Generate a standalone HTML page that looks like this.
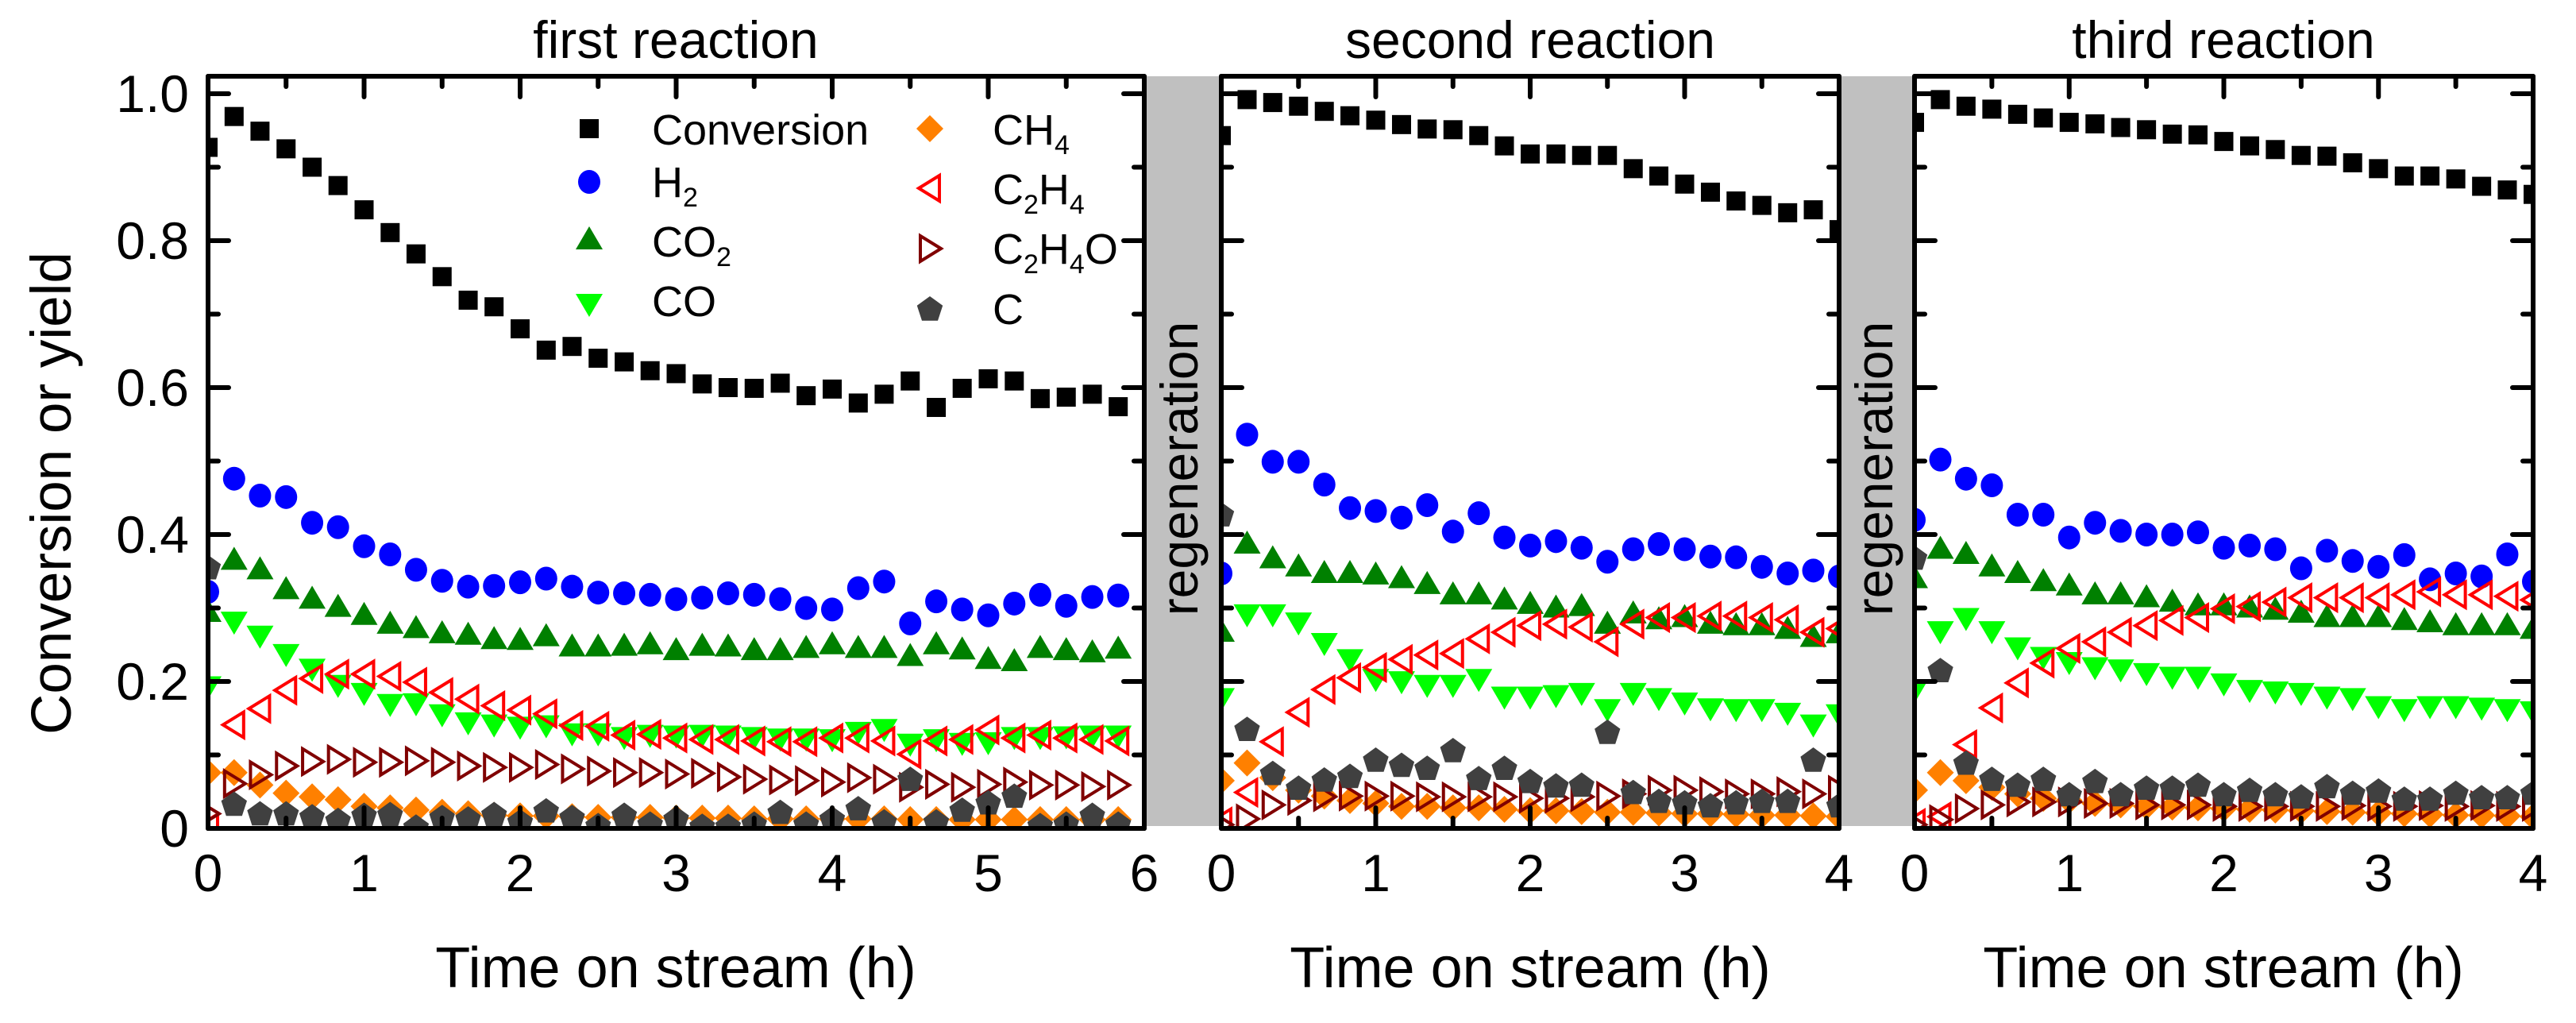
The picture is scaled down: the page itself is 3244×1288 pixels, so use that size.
<!DOCTYPE html>
<html><head><meta charset="utf-8"><style>
html,body{margin:0;padding:0;background:#fff;}
svg{display:block;font-family:"Liberation Sans",sans-serif;}
</style></head><body>
<svg id="chart" width="3244" height="1288" viewBox="0 0 3244 1288" xmlns="http://www.w3.org/2000/svg">
<defs>
<clipPath id="clip1"><rect x="262" y="96" width="1179" height="947"/></clipPath>
<clipPath id="clip2"><rect x="1538" y="96" width="778" height="947"/></clipPath>
<clipPath id="clip3"><rect x="2411" y="96" width="779" height="947"/></clipPath>
</defs>
<rect x="1443" y="96" width="93" height="944" fill="#c0c0c0"/>
<rect x="2318" y="96" width="91" height="944" fill="#c0c0c0"/>
<text transform="translate(1508,590) rotate(-90)" text-anchor="middle" font-size="66">regeneration</text>
<text transform="translate(2383,590) rotate(-90)" text-anchor="middle" font-size="66">regeneration</text>
<text transform="translate(89,621) rotate(-90)" text-anchor="middle" font-size="71">Conversion or yield</text>
<text x="851" y="73" text-anchor="middle" font-size="66">first reaction</text>
<text x="1927" y="73" text-anchor="middle" font-size="66">second reaction</text>
<text x="2800" y="73" text-anchor="middle" font-size="66">third reaction</text>
<text x="851" y="1243" text-anchor="middle" font-size="72">Time on stream (h)</text>
<text x="1927" y="1243" text-anchor="middle" font-size="72">Time on stream (h)</text>
<text x="2800" y="1243" text-anchor="middle" font-size="72">Time on stream (h)</text>
<g id="marks"></g>
<g id="frames"></g>
<g id="legend"></g>
</svg>
<script>
const t6 = [0,0.167,0.333,0.5,0.667,0.833,1,1.167,1.333,1.5,1.667,1.833,2,2.167,2.333,2.5,2.667,2.833,3,3.167,3.333,3.5,3.667,3.833,4,4.167,4.333,4.5,4.667,4.833,5,5.167,5.333,5.5,5.667,5.833];
const t4 = [0,0.167,0.333,0.5,0.667,0.833,1,1.167,1.333,1.5,1.667,1.833,2,2.167,2.333,2.5,2.667,2.833,3,3.167,3.333,3.5,3.667,3.833,4];
const yTicks = [0,0.2,0.4,0.6,0.8,1.0];
const yTickLabels = ["0","0.2","0.4","0.6","0.8","1.0"];

const p1Conv = [0.927,0.969,0.949,0.925,0.90,0.875,0.842,0.811,0.782,0.751,0.719,0.710,0.680,0.651,0.656,0.640,0.635,0.623,0.619,0.605,0.600,0.599,0.606,0.589,0.598,0.579,0.591,0.609,0.573,0.599,0.612,0.609,0.585,0.587,0.591,0.574];
const p1H2 = [0.322,0.476,0.453,0.451,0.416,0.410,0.384,0.373,0.352,0.337,0.329,0.330,0.335,0.340,0.329,0.321,0.320,0.318,0.312,0.314,0.320,0.318,0.312,0.300,0.298,0.327,0.336,0.279,0.309,0.298,0.290,0.306,0.318,0.303,0.315,0.317];
const p1CO2 = [0.294,0.365,0.352,0.325,0.312,0.301,0.290,0.278,0.272,0.265,0.263,0.257,0.256,0.261,0.247,0.247,0.248,0.250,0.242,0.248,0.247,0.242,0.242,0.245,0.250,0.245,0.245,0.234,0.250,0.243,0.230,0.227,0.245,0.242,0.239,0.244];
const p1CO = [0.194,0.282,0.263,0.238,0.218,0.196,0.185,0.170,0.171,0.156,0.145,0.142,0.139,0.141,0.130,0.130,0.125,0.128,0.127,0.128,0.127,0.125,0.123,0.123,0.122,0.132,0.136,0.116,0.122,0.117,0.118,0.125,0.125,0.126,0.127,0.127];
const p1CH4 = [0.076,0.076,0.059,0.048,0.043,0.039,0.030,0.028,0.025,0.022,0.020,0.018,0.017,0.017,0.016,0.015,0.015,0.015,0.014,0.014,0.014,0.013,0.013,0.013,0.013,0.013,0.013,0.012,0.012,0.012,0.012,0.012,0.012,0.012,0.012,0.012];
const p1C2H4 = [0.002,0.141,0.163,0.188,0.204,0.210,0.210,0.207,0.199,0.185,0.176,0.167,0.161,0.156,0.140,0.139,0.127,0.128,0.123,0.121,0.121,0.119,0.118,0.118,0.123,0.123,0.119,0.101,0.119,0.121,0.134,0.123,0.127,0.123,0.121,0.119];
const p1C2H4O = [0.02,0.061,0.073,0.085,0.091,0.094,0.090,0.090,0.092,0.090,0.085,0.083,0.083,0.087,0.081,0.078,0.076,0.076,0.074,0.075,0.070,0.067,0.066,0.065,0.063,0.069,0.067,0.056,0.060,0.056,0.060,0.063,0.059,0.059,0.057,0.059];
const p1C = [0.356,0.034,0.021,0.021,0.017,0.012,0.019,0.020,0.003,0.016,0.014,0.020,0.010,0.025,0.016,0.005,0.019,0.007,0.014,0.004,0.004,0.007,0.023,0.007,0.014,0.028,0.010,0.068,0.010,0.026,0.036,0.045,0.005,0.007,0.019,0.007];

const p2Conv = [0.943,0.992,0.988,0.983,0.976,0.970,0.964,0.958,0.952,0.951,0.943,0.929,0.918,0.918,0.916,0.916,0.898,0.888,0.877,0.866,0.854,0.848,0.838,0.842,0.815];
const p2H2 = [0.347,0.536,0.499,0.499,0.468,0.436,0.432,0.423,0.440,0.404,0.429,0.396,0.385,0.391,0.382,0.363,0.380,0.387,0.380,0.370,0.369,0.356,0.347,0.351,0.343];
const p2CO2 = [0.267,0.387,0.367,0.356,0.347,0.347,0.345,0.340,0.332,0.318,0.318,0.311,0.305,0.300,0.302,0.278,0.292,0.284,0.287,0.278,0.276,0.276,0.271,0.260,0.265];
const p2CO = [0.178,0.292,0.292,0.281,0.253,0.231,0.204,0.201,0.196,0.196,0.204,0.180,0.180,0.182,0.185,0.163,0.185,0.178,0.172,0.164,0.163,0.163,0.158,0.142,0.156];
const p2CH4 = [0.065,0.089,0.069,0.052,0.044,0.038,0.034,0.030,0.030,0.028,0.028,0.026,0.024,0.024,0.023,0.022,0.022,0.021,0.020,0.020,0.019,0.018,0.018,0.017,0.016];
const p2C2H4 = [0.009,0.049,0.118,0.158,0.189,0.205,0.219,0.230,0.236,0.238,0.258,0.267,0.276,0.278,0.274,0.254,0.278,0.287,0.287,0.289,0.289,0.287,0.284,0.267,0.272];
const p2C2H4O = [0.005,0.013,0.032,0.038,0.043,0.044,0.044,0.044,0.043,0.043,0.043,0.043,0.041,0.041,0.043,0.044,0.047,0.052,0.052,0.050,0.047,0.047,0.050,0.047,0.052];
const p2C = [0.428,0.136,0.076,0.056,0.067,0.072,0.094,0.087,0.083,0.107,0.069,0.083,0.065,0.059,0.060,0.132,0.050,0.038,0.036,0.032,0.036,0.038,0.038,0.094,0.032];

const p3Conv = [0.961,0.992,0.983,0.979,0.972,0.967,0.961,0.959,0.954,0.951,0.945,0.944,0.935,0.929,0.924,0.916,0.915,0.906,0.898,0.888,0.888,0.884,0.874,0.869,0.863];
const p3H2 = [0.420,0.502,0.476,0.467,0.427,0.427,0.396,0.416,0.405,0.400,0.400,0.403,0.382,0.385,0.380,0.354,0.378,0.364,0.356,0.372,0.339,0.347,0.343,0.373,0.336];
const p3CO2 = [0.340,0.380,0.373,0.356,0.347,0.336,0.330,0.318,0.318,0.314,0.308,0.303,0.303,0.300,0.297,0.293,0.287,0.287,0.287,0.283,0.280,0.276,0.276,0.276,0.271];
const p3CO = [0.189,0.269,0.287,0.269,0.247,0.234,0.227,0.220,0.217,0.212,0.207,0.207,0.198,0.189,0.187,0.185,0.180,0.178,0.167,0.163,0.167,0.167,0.165,0.163,0.160];
const p3CH4 = [0.052,0.076,0.065,0.056,0.047,0.041,0.038,0.034,0.032,0.030,0.029,0.028,0.027,0.026,0.025,0.024,0.023,0.022,0.021,0.020,0.019,0.018,0.018,0.017,0.016];
const p3C2H4 = [0.007,0.016,0.114,0.164,0.198,0.225,0.245,0.254,0.267,0.276,0.283,0.287,0.299,0.302,0.308,0.314,0.314,0.314,0.314,0.318,0.322,0.318,0.318,0.316,0.311];
const p3C2H4O = [0.005,0.012,0.027,0.032,0.036,0.036,0.036,0.034,0.034,0.032,0.032,0.032,0.030,0.030,0.030,0.030,0.030,0.031,0.030,0.030,0.031,0.030,0.031,0.030,0.030];
const p3C = [0.369,0.216,0.090,0.068,0.060,0.068,0.047,0.065,0.047,0.056,0.056,0.060,0.047,0.053,0.047,0.044,0.058,0.049,0.052,0.041,0.041,0.049,0.043,0.043,0.049];

const NS = "http://www.w3.org/2000/svg";
const Y0 = 1043, Y1 = 118; // pixel for 0 and 1.0
const panels = [
  {id:1, x0:262, x1:1441, xmax:6, t:t6, xTicks:[0,1,2,3,4,5,6], s:{conv:p1Conv,h2:p1H2,co2:p1CO2,co:p1CO,ch4:p1CH4,c2h4:p1C2H4,c2h4o:p1C2H4O,c:p1C}},
  {id:2, x0:1538, x1:2316, xmax:4, t:t4, xTicks:[0,1,2,3,4], s:{conv:p2Conv,h2:p2H2,co2:p2CO2,co:p2CO,ch4:p2CH4,c2h4:p2C2H4,c2h4o:p2C2H4O,c:p2C}},
  {id:3, x0:2411, x1:3190, xmax:4, t:t4, xTicks:[0,1,2,3,4], s:{conv:p3Conv,h2:p3H2,co2:p3CO2,co:p3CO,ch4:p3CH4,c2h4:p3C2H4,c2h4o:p3C2H4O,c:p3C}}
];
function yScale(v){ return Y0 - v*(Y0-Y1); }
function el(tag, attrs, parent){ const e=document.createElementNS(NS,tag); for(const k in attrs) e.setAttribute(k,attrs[k]); parent.appendChild(e); return e; }

function drawMarker(kind, cx, cy, parent){
  let e;
  if(kind==='conv'){ e=el('rect',{x:cx-12,y:cy-12,width:24,height:24,fill:'#000'},parent); }
  else if(kind==='h2'){ e=el('ellipse',{cx:cx,cy:cy,rx:14,ry:15,fill:'#0000ff'},parent); }
  else if(kind==='co2'){ e=el('polygon',{points:`${cx},${cy-17} ${cx+17},${cy+12} ${cx-17},${cy+12}`,fill:'#008000'},parent); }
  else if(kind==='co'){ e=el('polygon',{points:`${cx},${cy+17} ${cx+17},${cy-12} ${cx-17},${cy-12}`,fill:'#00ff00'},parent); }
  else if(kind==='ch4'){ e=el('polygon',{points:`${cx},${cy-17} ${cx+17},${cy} ${cx},${cy+17} ${cx-17},${cy}`,fill:'#ff8000'},parent); }
  else if(kind==='c2h4'){ e=el('polygon',{points:`${cx-14},${cy} ${cx+12},${cy-16} ${cx+12},${cy+16}`,fill:'none',stroke:'#ff0000','stroke-width':4},parent); }
  else if(kind==='c2h4o'){ e=el('polygon',{points:`${cx+14},${cy} ${cx-12},${cy-16} ${cx-12},${cy+16}`,fill:'none',stroke:'#800000','stroke-width':4},parent); }
  else { const pts=[]; for(let i=0;i<5;i++){ const a=-Math.PI/2+i*2*Math.PI/5; pts.push((cx+17*Math.cos(a)).toFixed(1)+','+(cy+2+17*Math.sin(a)).toFixed(1)); } e=el('polygon',{points:pts.join(' '),fill:'#404040'},parent); }
  return e;
}
const order = ['conv','h2','co2','co','ch4','c2h4','c2h4o','c'];
const marks = document.getElementById('marks');
const frames = document.getElementById('frames');
panels.forEach(p=>{
  const xs = v => p.x0 + v*(p.x1-p.x0)/p.xmax;
  const g = el('g',{'clip-path':`url(#clip${p.id})`},marks);
  
  
  order.forEach(k=>{
    const sg = el('g',{},g);
    
    
    const vals = p.s[k];
    vals.forEach((v,i)=>{
      const m = drawMarker(k, xs(p.t[i]), yScale(v), sg);
      
      
    });
  });
  // frame
  const f = el('rect',{x:p.x0,y:96,width:p.x1-p.x0,height:Y0-96,fill:'none',stroke:'#000','stroke-width':6,'stroke-linejoin':'round'},frames);
  
  
  const tg = el('g',{stroke:'#000','stroke-width':6,'stroke-linecap':'round'},frames);
  
  
  for(let v=0; v<=1.001; v+=0.1){
    const major = Math.round(v*10)%2===0;
    const L = major?26:13, y=yScale(v);
    el('line',{x1:p.x0,y1:y,x2:p.x0+L,y2:y},tg);
    el('line',{x1:p.x1,y1:y,x2:p.x1-L,y2:y},tg);
  }
  for(let v=0; v<=p.xmax+0.001; v+=0.5){
    const major = Math.abs(v-Math.round(v))<0.01;
    const L = major?26:13, x=xs(v);
    el('line',{x1:x,y1:Y0,x2:x,y2:Y0-L},tg);
    el('line',{x1:x,y1:96,x2:x,y2:96+L},tg);
  }
  p.xTicks.forEach(v=>{
    const t = el('text',{x:xs(v),y:1122,'text-anchor':'middle','font-size':66},frames);
    t.textContent = String(v);
    
    
  });
});
yTicks.forEach((v,i)=>{
  const t = el('text',{x:238,y:yScale(v)+23,'text-anchor':'end','font-size':66},frames);
  t.textContent = yTickLabels[i];
  
  
});
// legend
const legend = document.getElementById('legend');
const legendItems = [
  {k:'conv', mx:742, my:162, tx:821, ty:182, parts:[['Conversion',0]]},
  {k:'h2', mx:742, my:229, tx:821, ty:248, parts:[['H',0],['2',1]]},
  {k:'co2', mx:742, my:302, tx:821, ty:323, parts:[['CO',0],['2',1]]},
  {k:'co', mx:742, my:382, tx:821, ty:398, parts:[['CO',0]]},
  {k:'ch4', mx:1171, my:162, tx:1250, ty:182, parts:[['CH',0],['4',1]]},
  {k:'c2h4', mx:1171, my:237, tx:1250, ty:257, parts:[['C',0],['2',1],['H',0],['4',1]]},
  {k:'c2h4o', mx:1171, my:313, tx:1250, ty:332, parts:[['C',0],['2',1],['H',0],['4',1],['O',0]]},
  {k:'c', mx:1171, my:388, tx:1250, ty:408, parts:[['C',0]]}
];
legendItems.forEach(it=>{
  const m = drawMarker(it.k, it.mx, it.my, legend);
  
  
  const t = el('text',{x:it.tx,y:it.ty,'font-size':54},legend);
  
  
  let prevSub = 0;
  it.parts.forEach(([s,sub])=>{
    const ts = el('tspan',{},t);
    if(sub){ ts.setAttribute('font-size','34'); ts.setAttribute('dy', 12); }
    else if(prevSub){ ts.setAttribute('dy', -12); }
    ts.textContent = s;
    prevSub = sub;
  });
});
</script>
</body></html>
